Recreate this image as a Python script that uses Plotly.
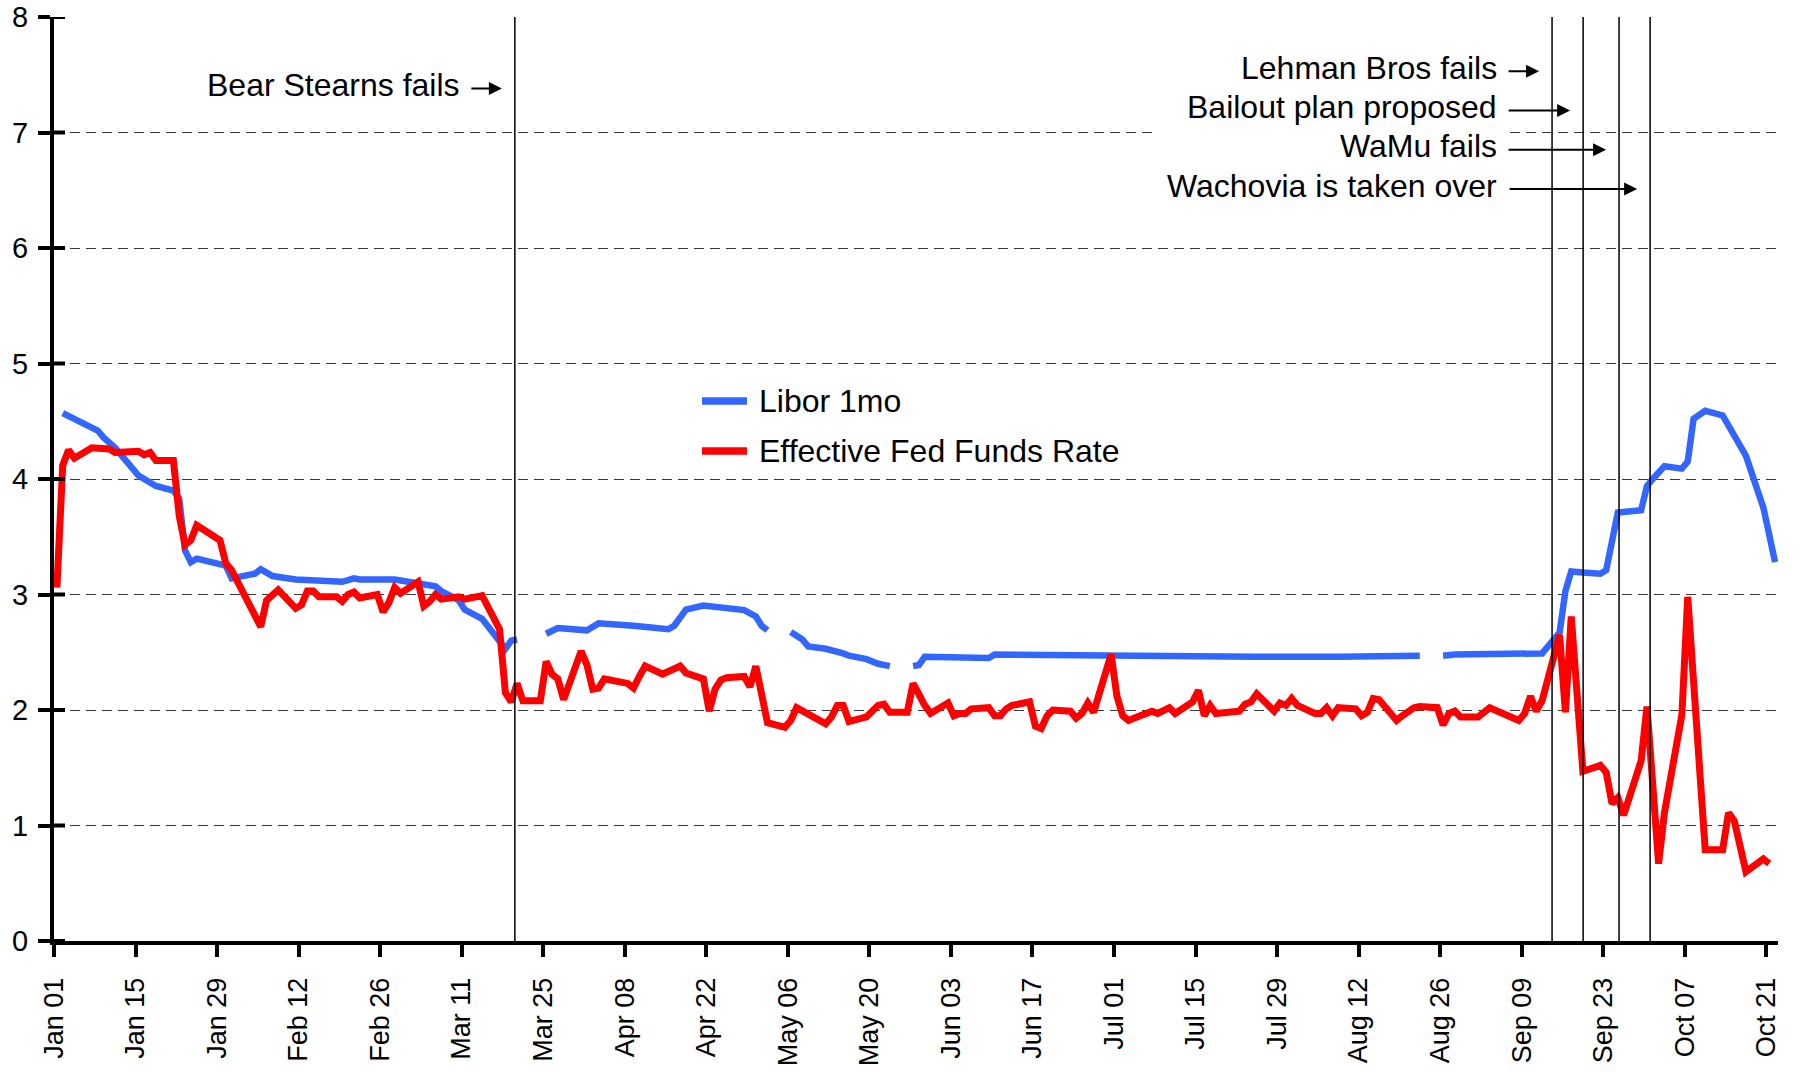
import pandas as pd
import plotly.graph_objects as go

# ---------------- data ----------------
libor_dates = [
    "2008-01-02", "2008-01-08", "2008-01-09", "2008-01-11", "2008-01-15", "2008-01-18",
    "2008-01-21", "2008-01-22", "2008-01-23", "2008-01-24", "2008-01-25", "2008-01-30",
    "2008-01-31", "2008-02-04", "2008-02-05", "2008-02-07", "2008-02-11", "2008-02-14",
    "2008-02-19", "2008-02-21", "2008-02-22", "2008-02-28", "2008-03-03", "2008-03-06",
    "2008-03-07", "2008-03-10", "2008-03-11", "2008-03-14", "2008-03-18", "2008-03-19",
    "2008-03-20", "2008-03-21", "2008-03-25", "2008-03-27", "2008-04-01", "2008-04-03",
    "2008-04-09", "2008-04-15", "2008-04-16", "2008-04-18", "2008-04-21", "2008-04-24",
    "2008-04-28", "2008-04-30", "2008-05-01", "2008-05-02", "2008-05-05", "2008-05-06",
    "2008-05-08", "2008-05-09", "2008-05-12", "2008-05-15", "2008-05-16", "2008-05-19",
    "2008-05-21", "2008-05-23", "2008-05-26", "2008-05-27", "2008-05-28", "2008-05-29",
    "2008-06-04", "2008-06-09", "2008-06-10", "2008-06-26", "2008-07-11", "2008-07-25",
    "2008-08-08", "2008-08-22", "2008-08-25", "2008-08-26", "2008-08-28", "2008-09-12",
    "2008-09-15", "2008-09-16", "2008-09-17", "2008-09-19", "2008-09-22", "2008-09-23",
    "2008-09-25", "2008-09-29", "2008-09-30", "2008-10-01", "2008-10-03", "2008-10-06",
    "2008-10-07", "2008-10-08", "2008-10-10", "2008-10-13", "2008-10-15", "2008-10-17",
    "2008-10-20", "2008-10-22",
]
libor_values = [
    4.57, 4.42, 4.36, 4.27, 4.03, 3.94,
    3.90, 3.83, 3.38, 3.28, 3.31, 3.25,
    3.14, 3.18, 3.22, 3.16, 3.13, 3.12,
    3.11, 3.14, 3.13, 3.13, 3.10, 3.07,
    3.03, 2.95, 2.87, 2.79, 2.53, 2.60,
    2.61, None, 2.66, 2.71, 2.69, 2.75,
    2.73, 2.70, 2.73, 2.87, 2.905, 2.89,
    2.865, 2.81, 2.73, 2.69, None, 2.675,
    2.61, 2.55, 2.53, 2.49, 2.47, 2.44,
    2.40, 2.38, None, 2.38, 2.39, 2.46,
    2.45, 2.45, 2.48, 2.47, 2.455, 2.46,
    2.46, 2.47, None, 2.47, 2.48, 2.49,
    2.67, 3.03, 3.20, 3.19, 3.18, 3.21,
    3.71, 3.73, 3.94, 4.00, 4.11, 4.09,
    4.15, 4.52, 4.59, 4.55, 4.37, 4.20,
    3.75, 3.28,
]

effr_dates = [
    "2008-01-01", "2008-01-02", "2008-01-03", "2008-01-04", "2008-01-07", "2008-01-10",
    "2008-01-11", "2008-01-15", "2008-01-16", "2008-01-17", "2008-01-18", "2008-01-21",
    "2008-01-22", "2008-01-23", "2008-01-24", "2008-01-25", "2008-01-29", "2008-01-30",
    "2008-01-31", "2008-02-05", "2008-02-06", "2008-02-08", "2008-02-11", "2008-02-12",
    "2008-02-13", "2008-02-14", "2008-02-15", "2008-02-18", "2008-02-19", "2008-02-20",
    "2008-02-21", "2008-02-22", "2008-02-25", "2008-02-26", "2008-02-27", "2008-02-28",
    "2008-02-29", "2008-03-03", "2008-03-04", "2008-03-05", "2008-03-06", "2008-03-07",
    "2008-03-10", "2008-03-11", "2008-03-14", "2008-03-17", "2008-03-18", "2008-03-19",
    "2008-03-20", "2008-03-21", "2008-03-24", "2008-03-25", "2008-03-26", "2008-03-27",
    "2008-03-28", "2008-03-31", "2008-04-01", "2008-04-02", "2008-04-03", "2008-04-04",
    "2008-04-08", "2008-04-09", "2008-04-10", "2008-04-11", "2008-04-14", "2008-04-17",
    "2008-04-18", "2008-04-21", "2008-04-22", "2008-04-23", "2008-04-24", "2008-04-25",
    "2008-04-28", "2008-04-29", "2008-04-30", "2008-05-01", "2008-05-02", "2008-05-05",
    "2008-05-06", "2008-05-07", "2008-05-09", "2008-05-12", "2008-05-13", "2008-05-14",
    "2008-05-15", "2008-05-16", "2008-05-19", "2008-05-21", "2008-05-22", "2008-05-23",
    "2008-05-26", "2008-05-27", "2008-05-29", "2008-05-30", "2008-06-02", "2008-06-03",
    "2008-06-04", "2008-06-05", "2008-06-06", "2008-06-09", "2008-06-10", "2008-06-11",
    "2008-06-12", "2008-06-13", "2008-06-16", "2008-06-17", "2008-06-18", "2008-06-19",
    "2008-06-20", "2008-06-23", "2008-06-24", "2008-06-25", "2008-06-26", "2008-06-27",
    "2008-06-30", "2008-07-01", "2008-07-02", "2008-07-03", "2008-07-04", "2008-07-07",
    "2008-07-08", "2008-07-10", "2008-07-11", "2008-07-14", "2008-07-15", "2008-07-16",
    "2008-07-17", "2008-07-18", "2008-07-22", "2008-07-23", "2008-07-24", "2008-07-25",
    "2008-07-28", "2008-07-29", "2008-07-30", "2008-07-31", "2008-08-01", "2008-08-04",
    "2008-08-05", "2008-08-06", "2008-08-07", "2008-08-08", "2008-08-11", "2008-08-12",
    "2008-08-13", "2008-08-14", "2008-08-15", "2008-08-18", "2008-08-19", "2008-08-21",
    "2008-08-22", "2008-08-25", "2008-08-26", "2008-08-27", "2008-08-28", "2008-08-29",
    "2008-09-01", "2008-09-03", "2008-09-08", "2008-09-09", "2008-09-10", "2008-09-11",
    "2008-09-12", "2008-09-15", "2008-09-16", "2008-09-17", "2008-09-19", "2008-09-22",
    "2008-09-23", "2008-09-24", "2008-09-25", "2008-09-26", "2008-09-29", "2008-09-30",
    "2008-10-02", "2008-10-03", "2008-10-06", "2008-10-07", "2008-10-10", "2008-10-13",
    "2008-10-14", "2008-10-15", "2008-10-17", "2008-10-20", "2008-10-21",
]
effr_values = [
    3.06, 4.12, 4.25, 4.18, 4.27, 4.26,
    4.23, 4.24, 4.21, 4.23, 4.16, 4.16,
    3.68, 3.43, 3.47, 3.60, 3.47, 3.27,
    3.21, 2.72, 2.95, 3.04, 2.88, 2.91,
    3.03, 3.03, 2.98, 2.98, 2.94, 3.00,
    3.02, 2.97, 3.00, 2.85, 2.93, 3.06,
    3.01, 3.11, 2.90, 2.94, 3.00, 2.96,
    2.98, 2.96, 2.99, 2.70, 2.15, 2.07,
    2.23, 2.08, 2.08, 2.42, 2.31, 2.27,
    2.09, 2.51, 2.39, 2.18, 2.19, 2.27,
    2.23, 2.19, 2.29, 2.38, 2.31, 2.38,
    2.32, 2.27, 1.99, 2.18, 2.26, 2.28,
    2.29, 2.20, 2.38, 2.15, 1.89, 1.85,
    1.91, 2.02, 1.97, 1.88, 1.94, 2.04,
    2.04, 1.90, 1.94, 2.04, 2.05, 1.98,
    1.98, 2.23, 2.04, 1.97, 2.06, 1.95,
    1.97, 1.97, 2.01, 2.02, 1.95, 1.95,
    2.01, 2.04, 2.07, 1.86, 1.84, 1.95,
    2.00, 1.99, 1.93, 1.97, 2.06, 1.98,
    2.48, 2.12, 1.95, 1.91, 1.93, 1.99,
    1.97, 2.02, 1.97, 2.07, 2.17, 1.95,
    2.04, 1.97, 1.99, 2.05, 2.07, 2.14,
    1.99, 2.06, 2.04, 2.10, 2.04, 1.97,
    1.97, 2.02, 1.95, 2.02, 2.01, 1.95,
    1.98, 2.10, 2.09, 1.91, 1.95, 2.02,
    2.03, 2.02, 1.87, 1.97, 1.99, 1.94,
    1.94, 2.02, 1.91, 1.97, 2.12, 1.99,
    2.08, 2.65, 1.98, 2.81, 1.47, 1.52,
    1.46, 1.19, 1.24, 1.09, 1.56, 2.03,
    0.67, 1.11, 1.96, 2.98, 0.79, 0.79,
    1.11, 1.04, 0.60, 0.71, 0.67,
]

tick_dates = [
    "2008-01-01", "2008-01-15", "2008-01-29", "2008-02-12", "2008-02-26", "2008-03-11",
    "2008-03-25", "2008-04-08", "2008-04-22", "2008-05-06", "2008-05-20", "2008-06-03",
    "2008-06-17", "2008-07-01", "2008-07-15", "2008-07-29", "2008-08-12", "2008-08-26",
    "2008-09-09", "2008-09-23", "2008-10-07", "2008-10-21",
]
tick_labels = [
    "Jan 01", "Jan 15", "Jan 29", "Feb 12", "Feb 26", "Mar 11",
    "Mar 25", "Apr 08", "Apr 22", "May 06", "May 20", "Jun 03",
    "Jun 17", "Jul 01", "Jul 15", "Jul 29", "Aug 12", "Aug 26",
    "Sep 09", "Sep 23", "Oct 07", "Oct 21",
]
y_ticks = [0, 1, 2, 3, 4, 5, 6, 7, 8]

event_labels = ["Bear Stearns fails", "Lehman Bros fails", "Bailout plan proposed",
                "WaMu fails", "Wachovia is taken over"]
event_dates = ["2008-03-20 03:00", "2008-09-14 05:00", "2008-09-19 13:00",
               "2008-09-25 17:00", "2008-10-01 01:00"]
event_label_y = [7.41, 7.56, 7.22, 6.88, 6.54]
event_arrow_len = [32, 32, 63, 99, 129]

series_names = ["Libor 1mo", "Effective Fed Funds Rate"]
series_colors = ["#3366FF", "#FF0000"]

# ---------------- geometry / style ----------------
W, H = 1801, 1072
ML, MR, MT, MB = 54, 23, 17, 131
PW, PH = W - ML - MR, H - MT - MB
FONT = "Arial, 'Liberation Sans', sans-serif"


def px_x(px):
    return (px - ML) / PW


def px_y(py):
    return (H - MB - py) / PH


half_day = pd.Timedelta(hours=12)  # points sit mid-day, between tick marks
libor_x = pd.to_datetime(libor_dates) + half_day
effr_x = pd.to_datetime(effr_dates) + half_day

fig = go.Figure()
fig.add_trace(go.Scatter(x=libor_x, y=libor_values, mode="lines", name=series_names[0],
                         line=dict(color=series_colors[0], width=6.5), connectgaps=False,
                         showlegend=False))
fig.add_trace(go.Scatter(x=effr_x, y=effr_values, mode="lines", name=series_names[1],
                         line=dict(color=series_colors[1], width=7),
                         showlegend=False))

shapes = []
# white box behind the September event labels
shapes.append(dict(type="rect", xref="paper", yref="paper",
                   x0=px_x(1154), x1=px_x(1507), y0=px_y(212), y1=px_y(42),
                   fillcolor="white", line=dict(width=0), layer="above"))
# vertical event lines
for d in event_dates:
    shapes.append(dict(type="line", xref="x", yref="y", x0=d, x1=d, y0=0, y1=8,
                       line=dict(color="black", width=1.5)))
# inner half of the crossing y ticks
for v in y_ticks:
    shapes.append(dict(type="line", xref="paper", yref="y", x0=0, x1=px_x(ML + 11),
                       y0=v, y1=v, line=dict(color="black", width=4)))
# manual legend samples
legend_rows = [401, 451]
for c, row in zip(series_colors, legend_rows):
    shapes.append(dict(type="line", xref="paper", yref="paper",
                       x0=px_x(702), x1=px_x(747), y0=px_y(row), y1=px_y(row),
                       line=dict(color=c, width=7.5)))

annotations = []
for name, row in zip(series_names, legend_rows):
    annotations.append(dict(xref="paper", yref="paper", x=px_x(757), y=px_y(row),
                            text=name, showarrow=False, xanchor="left", yanchor="middle",
                            font=dict(family=FONT, size=32, color="black")))

for i, (lab, d, ly, alen) in enumerate(zip(event_labels, event_dates, event_label_y,
                                            event_arrow_len)):
    ref_date = event_dates[0] if i == 0 else event_dates[1]
    annotations.append(dict(xref="x", yref="y", x=ref_date, y=ly, text=lab,
                            showarrow=False, xanchor="right", yanchor="middle",
                            xshift=-53, font=dict(family=FONT, size=32, color="black")))
    annotations.append(dict(xref="x", yref="y", x=d, y=ly - 0.03, text="",
                            showarrow=True, ax=-alen, ay=0, xshift=-13,
                            arrowhead=2, arrowsize=1.3, arrowwidth=2, arrowcolor="black",
                            standoff=0, startstandoff=0))

fig.update_layout(
    width=W, height=H,
    margin=dict(l=ML, r=MR, t=MT, b=MB, pad=0, autoexpand=False),
    paper_bgcolor="white", plot_bgcolor="white",
    font=dict(family=FONT, color="black"),
    shapes=shapes, annotations=annotations,
    showlegend=False,
    xaxis=dict(type="date", range=["2008-01-01", "2008-10-23"], automargin=False,
               tickmode="array", tickvals=tick_dates, ticktext=tick_labels,
               tickangle=-90, ticks="outside", ticklen=12, tickwidth=4, tickcolor="black",
               showline=True, linewidth=4, linecolor="black", showgrid=False,
               zeroline=False, tickfont=dict(family=FONT, size=27, color="black"),
               ticklabelstandoff=10),
    yaxis=dict(range=[0, 8], tickmode="array", tickvals=y_ticks, automargin=False,
               ticktext=[str(v) for v in y_ticks],
               ticks="outside", ticklen=12, tickwidth=4, tickcolor="black",
               showline=True, linewidth=4, linecolor="black",
               showgrid=True, gridcolor="#3a3a3a", gridwidth=1, griddash="10px,6px",
               zeroline=False, tickfont=dict(family=FONT, size=29, color="black"),
               ticklabelstandoff=4),
)

fig.write_html("out.html", config={"displayModeBar": False},
               post_script="document.body.style.margin='0';document.body.style.overflow='hidden';")
